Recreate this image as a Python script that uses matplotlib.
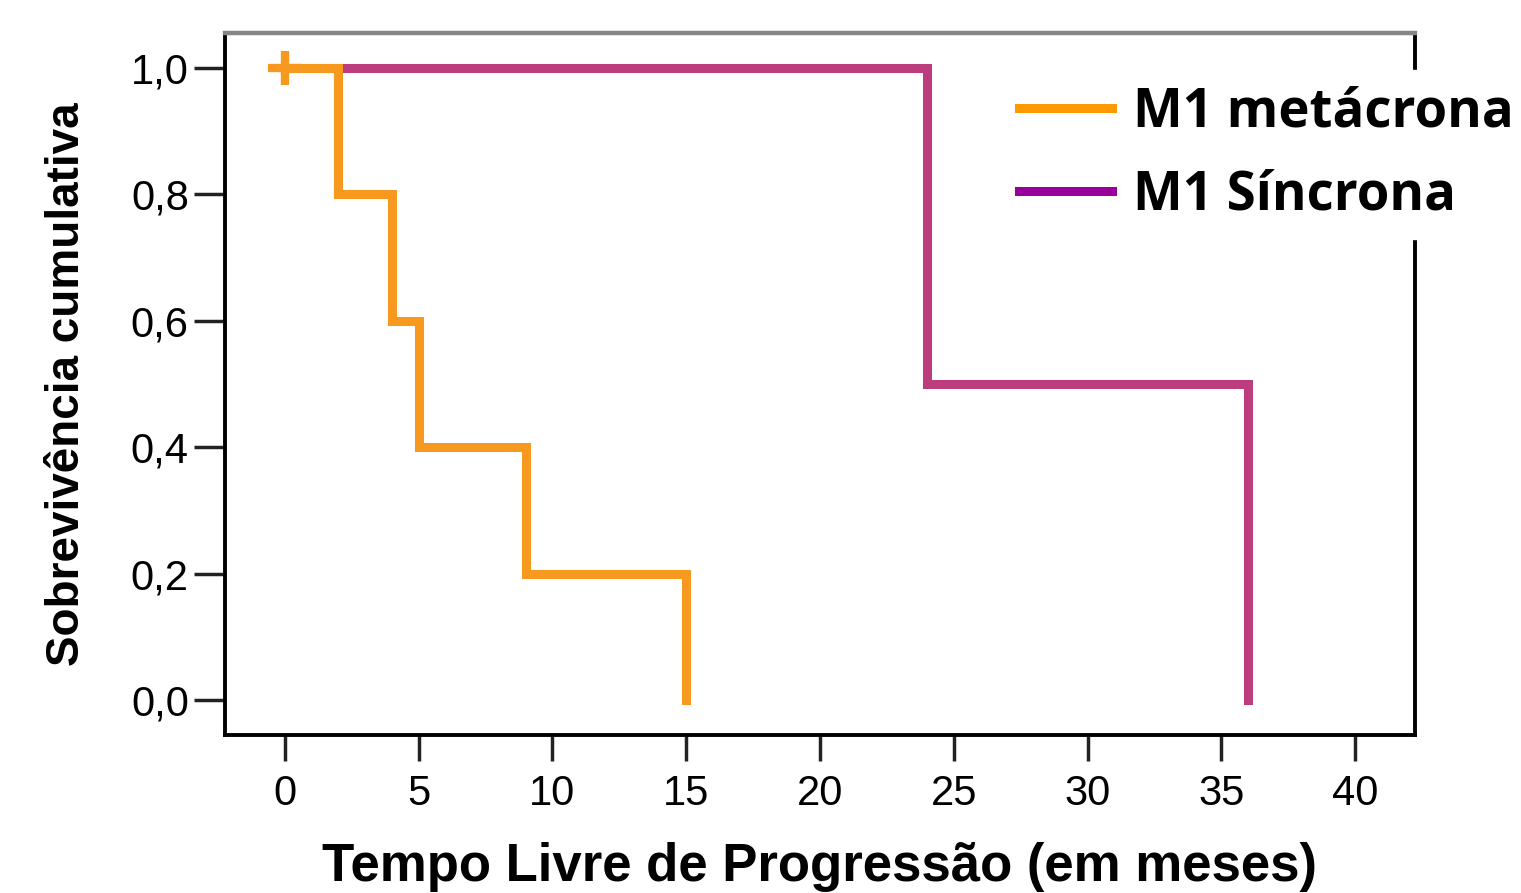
import matplotlib
matplotlib.use("Agg")
import matplotlib.pyplot as plt
from matplotlib.lines import Line2D

# dados (Kaplan-Meier)
meta_t = [0, 2, 4, 5, 9, 15]
meta_s = [1.0, 0.8, 0.6, 0.4, 0.2, 0.0]
sinc_t = [0, 24, 36]
sinc_s = [1.0, 0.5, 0.0]
censura_t = [0]
censura_s = [1.0]

xticks = [0, 5, 10, 15, 20, 25, 30, 35, 40]
yticks = [0.0, 0.2, 0.4, 0.6, 0.8, 1.0]
ylabels = ["0,0", "0,2", "0,4", "0,6", "0,8", "1,0"]
legend_labels = ["M1 metácrona", "M1 Síncrona"]

cor_meta = "#f7991f"
cor_sinc = "#bb3d7d"
cor_leg_meta = "#ff9900"
cor_leg_sinc = "#990099"

plt.rcParams['font.family'] = ['Liberation Sans', 'DejaVu Sans']

fig = plt.figure(figsize=(15.21, 8.93), dpi=100)
ax = fig.add_axes([0.1479, 0.1769, 0.7824, 0.7861])

ax.step(sinc_t, sinc_s, where="post", color=cor_sinc, lw=6.5, solid_joinstyle="miter")
ax.step(meta_t, meta_s, where="post", color=cor_meta, lw=6.5, solid_joinstyle="miter")
ax.plot(censura_t, censura_s, marker="+", ms=24, mew=6, color=cor_meta, ls="none")

ax.set_xlim(-2.24, 42.24)
ax.set_ylim(-0.055, 1.055)
ax.set_xticks(xticks)
ax.set_xticklabels([str(v) for v in xticks])
ax.set_yticks(yticks)
ax.set_yticklabels(ylabels)
ax.tick_params(axis="x", length=19, width=2.5, labelsize=30, pad=9, color="#222222")
ax.tick_params(axis="y", length=22, width=2.5, labelsize=30, pad=4, color="#222222")

for s in ["left", "bottom", "right"]:
    ax.spines[s].set_linewidth(2.8)
    ax.spines[s].set_color("black")
ax.spines["top"].set_linewidth(3.2)
ax.spines["top"].set_color("#858585")

ax.set_xlabel("Tempo Livre de Progressão (em meses)", fontsize=38, fontweight="bold", labelpad=20)
ax.set_ylabel("Sobrevivência cumulativa", fontsize=33, fontweight="bold", labelpad=30)

handles = [Line2D([], [], color=cor_leg_meta, lw=6.5),
           Line2D([], [], color=cor_leg_sinc, lw=6.5)]
leg = ax.legend(handles, legend_labels, loc="upper left", bbox_to_anchor=(0.632, 0.985),
                frameon=True, fancybox=False, edgecolor="white", facecolor="white", framealpha=1,
                handlelength=1.75, handletextpad=0.4, labelspacing=0.55, borderpad=0.3,
                prop={"family": "Open Sans", "weight": "bold", "size": 38})

fig.savefig("out.png", dpi=100)
